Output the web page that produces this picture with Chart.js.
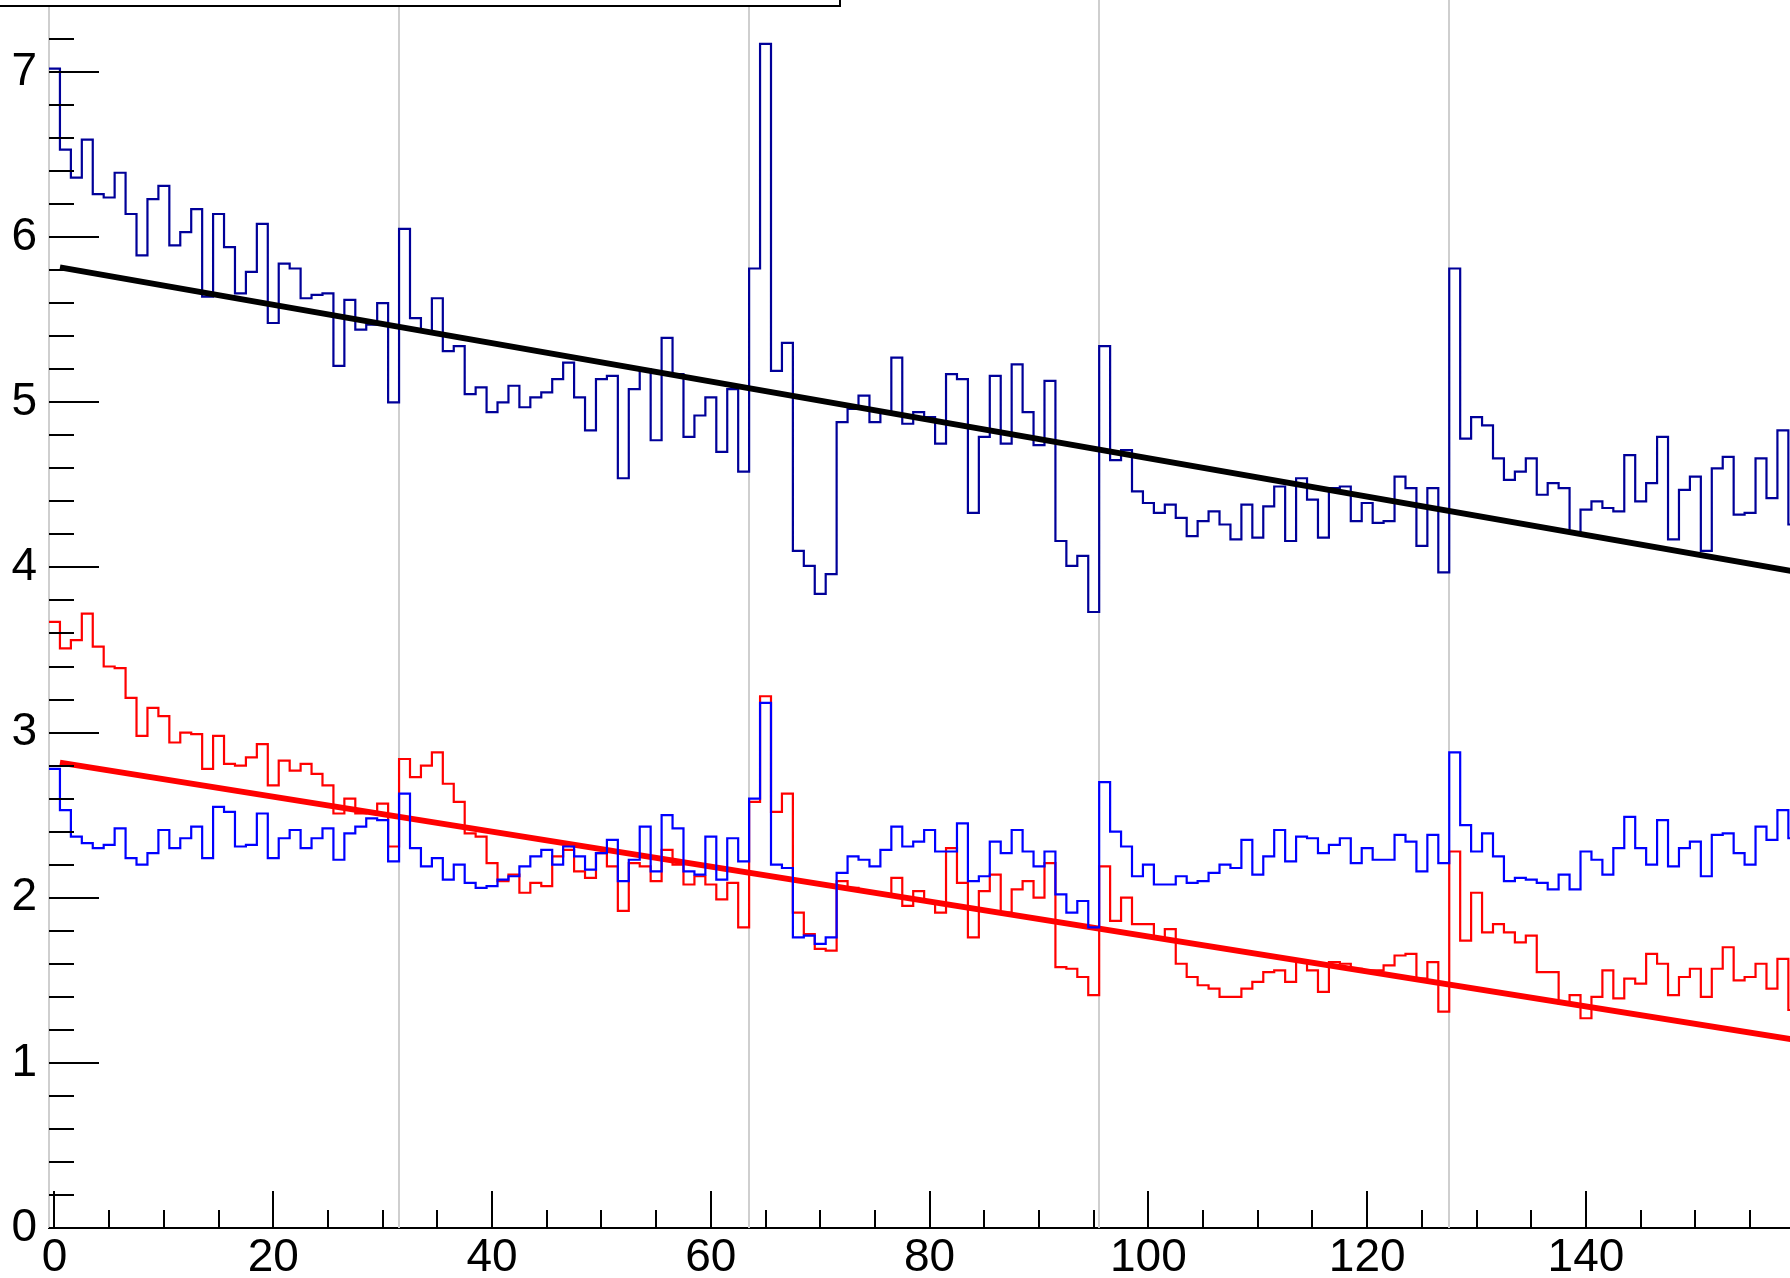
<!DOCTYPE html>
<html>
<head>
<meta charset="utf-8">
<title>Histograms with linear fits</title>
<script src="https://cdn.jsdelivr.net/npm/chart.js@4.4.1/dist/chart.umd.min.js"></script>
<style>
  html, body { margin: 0; padding: 0; background: #fff; overflow: hidden; }
  #wrap { width: 1790px; height: 1278px; }
</style>
</head>
<body>
<div id="wrap"><canvas id="hist" width="1790" height="1278"></canvas></div>
<script>
// === Data: one value per bin, bins centred on 0..159 ===
const upperHist = [
  7.02, 6.53, 6.36, 6.59, 6.26, 6.24, 6.39, 6.14, 5.89, 6.23,
  6.31, 5.95, 6.03, 6.17, 5.64, 6.14, 5.94, 5.66, 5.79, 6.08,
  5.48, 5.84, 5.81, 5.63, 5.65, 5.66, 5.22, 5.62, 5.44, 5.47,
  5.60, 5.00, 6.05, 5.51, 5.43, 5.63, 5.31, 5.34, 5.05, 5.09,
  4.94, 5.00, 5.10, 4.97, 5.03, 5.06, 5.14, 5.24, 5.03, 4.83,
  5.14, 5.16, 4.54, 5.08, 5.20, 4.77, 5.39, 5.17, 4.79, 4.92,
  5.03, 4.70, 5.08, 4.58, 5.81, 7.17, 5.19, 5.36, 4.10, 4.01,
  3.84, 3.96, 4.88, 4.96, 5.04, 4.88, 4.94, 5.27, 4.87, 4.94,
  4.91, 4.75, 5.17, 5.14, 4.33, 4.79, 5.16, 4.75, 5.23, 4.94,
  4.74, 5.13, 4.16, 4.01, 4.07, 3.73, 5.34, 4.65, 4.71, 4.46,
  4.39, 4.33, 4.38, 4.30, 4.19, 4.28, 4.34, 4.26, 4.17, 4.38,
  4.18, 4.37, 4.49, 4.16, 4.54, 4.41, 4.18, 4.48, 4.49, 4.28,
  4.39, 4.27, 4.28, 4.55, 4.48, 4.13, 4.48, 3.97, 5.81, 4.78,
  4.91, 4.86, 4.66, 4.53, 4.58, 4.66, 4.44, 4.51, 4.48, 4.21,
  4.35, 4.40, 4.36, 4.34, 4.68, 4.40, 4.51, 4.79, 4.17, 4.47,
  4.55, 4.10, 4.60, 4.67, 4.32, 4.33, 4.66, 4.42, 4.83, 4.26
];
const redHist = [
  3.67, 3.51, 3.56, 3.72, 3.52, 3.40, 3.39, 3.21, 2.98, 3.15,
  3.10, 2.94, 3.00, 2.99, 2.78, 2.98, 2.81, 2.80, 2.85, 2.93,
  2.68, 2.83, 2.77, 2.81, 2.75, 2.68, 2.51, 2.60, 2.51, 2.52,
  2.57, 2.31, 2.84, 2.73, 2.80, 2.88, 2.69, 2.58, 2.39, 2.37,
  2.21, 2.10, 2.14, 2.03, 2.09, 2.07, 2.25, 2.29, 2.16, 2.12,
  2.27, 2.19, 1.92, 2.21, 2.19, 2.10, 2.29, 2.20, 2.08, 2.13,
  2.08, 1.99, 2.09, 1.82, 2.58, 3.22, 2.52, 2.63, 1.91, 1.78,
  1.69, 1.68, 2.10, 2.06, 2.04, 2.03, 2.02, 2.12, 1.95, 2.04,
  1.98, 1.91, 2.30, 2.09, 1.76, 2.04, 2.14, 1.91, 2.05, 2.10,
  2.00, 2.21, 1.58, 1.57, 1.52, 1.41, 2.19, 1.86, 2.00, 1.84,
  1.84, 1.76, 1.81, 1.60, 1.52, 1.47, 1.45, 1.40, 1.40, 1.45,
  1.49, 1.55, 1.56, 1.49, 1.62, 1.56, 1.43, 1.61, 1.60, 1.57,
  1.56, 1.56, 1.59, 1.65, 1.66, 1.51, 1.61, 1.31, 2.28, 1.74,
  2.03, 1.79, 1.84, 1.79, 1.73, 1.77, 1.55, 1.55, 1.36, 1.41,
  1.27, 1.40, 1.56, 1.39, 1.51, 1.48, 1.66, 1.60, 1.41, 1.52,
  1.57, 1.40, 1.57, 1.70, 1.50, 1.52, 1.60, 1.45, 1.63, 1.32
];
const lowerHist = [
  2.78, 2.53, 2.37, 2.33, 2.30, 2.32, 2.42, 2.24, 2.20, 2.27,
  2.41, 2.30, 2.36, 2.43, 2.24, 2.55, 2.52, 2.31, 2.32, 2.51,
  2.24, 2.36, 2.41, 2.30, 2.36, 2.42, 2.23, 2.39, 2.43, 2.48,
  2.47, 2.22, 2.63, 2.30, 2.19, 2.24, 2.11, 2.20, 2.09, 2.06,
  2.07, 2.11, 2.13, 2.19, 2.25, 2.29, 2.20, 2.31, 2.25, 2.17,
  2.27, 2.35, 2.10, 2.23, 2.43, 2.16, 2.50, 2.42, 2.16, 2.14,
  2.37, 2.11, 2.36, 2.22, 2.60, 3.18, 2.20, 2.18, 1.76, 1.77,
  1.72, 1.76, 2.15, 2.25, 2.23, 2.19, 2.29, 2.43, 2.31, 2.34,
  2.41, 2.28, 2.28, 2.45, 2.10, 2.13, 2.34, 2.27, 2.41, 2.28,
  2.19, 2.28, 2.02, 1.91, 1.98, 1.82, 2.70, 2.40, 2.31, 2.13,
  2.20, 2.08, 2.08, 2.13, 2.09, 2.10, 2.15, 2.20, 2.18, 2.35,
  2.14, 2.25, 2.41, 2.22, 2.37, 2.36, 2.27, 2.32, 2.36, 2.21,
  2.30, 2.23, 2.23, 2.38, 2.34, 2.16, 2.38, 2.21, 2.88, 2.44,
  2.28, 2.39, 2.25, 2.10, 2.12, 2.11, 2.09, 2.05, 2.14, 2.05,
  2.28, 2.23, 2.14, 2.30, 2.49, 2.30, 2.20, 2.47, 2.19, 2.30,
  2.34, 2.13, 2.38, 2.39, 2.27, 2.20, 2.43, 2.35, 2.53, 2.36
];

// linear fits: x range and y at both ends
const fitX = [0.5, 159.5];
const blackFitY = [5.817, 3.970];
const redFitY = [2.818, 1.135];

// light grey separators (bin edges, x units)
const sectionEdges = [-0.5, 31.5, 63.5, 95.5, 127.5];

const yTickLabels = [0, 1, 2, 3, 4, 5, 6, 7];
const xTickLabels = [0, 20, 40, 60, 80, 100, 120, 140];

const FONT = '"Liberation Sans", Arial, Helvetica, sans-serif';

// bin k covers [k-0.5, k+0.5]; one point per left edge plus the last right edge
function toSteps(values) {
  const pts = values.map((v, i) => ({ x: i - 0.5, y: v }));
  pts.push({ x: values.length - 0.5, y: values[values.length - 1] });
  return pts;
}
function toLine(xs, ys) {
  return xs.map((x, i) => ({ x: x, y: ys[i] }));
}

// === ROOT-like decorations: separators, inward ticks, stats box edge ===
const rootFrame = {
  id: "rootFrame",
  beforeDatasetsDraw(chart) {
    const { ctx, chartArea, scales } = chart;
    ctx.save();
    ctx.strokeStyle = "#cfcfcf";
    ctx.lineWidth = 2;
    sectionEdges.forEach((e) => {
      const px = Math.round(scales.x.getPixelForValue(e));
      ctx.beginPath();
      ctx.moveTo(px, chartArea.top);
      ctx.lineTo(px, chartArea.bottom);
      ctx.stroke();
    });
    ctx.restore();
  },
  afterDraw(chart) {
    const { ctx, chartArea, scales } = chart;
    const x0 = scales.x.getPixelForValue(-0.5);
    ctx.save();
    ctx.strokeStyle = "#000";
    ctx.lineWidth = 2;

    // y ticks, pointing into the frame
    for (let i = 0; i <= 37; i++) {
      const v = i / 5;
      const py = Math.round(scales.y.getPixelForValue(v));
      if (py < chartArea.top - 2) continue;
      const len = i % 5 === 0 ? 50 : 25;
      ctx.beginPath();
      ctx.moveTo(x0, py);
      ctx.lineTo(x0 + len, py);
      ctx.stroke();
    }

    // x ticks, pointing up
    for (let v = 0; v <= 160; v += 5) {
      const px = Math.round(scales.x.getPixelForValue(v));
      if (px > chartArea.right + 2) continue;
      const len = v % 20 === 0 ? 37 : 18;
      ctx.beginPath();
      ctx.moveTo(px, chartArea.bottom);
      ctx.lineTo(px, chartArea.bottom - len);
      ctx.stroke();
    }

    // bottom edge of the box sitting above the plot
    ctx.fillStyle = "#fff";
    ctx.fillRect(-5, -20, 845, 26);
    ctx.strokeRect(-5, -20, 845, 26);
    ctx.restore();
  },
};

new Chart(document.getElementById("hist"), {
  type: "line",
  data: {
    datasets: [
      {
        label: "lower (blue)",
        data: toSteps(lowerHist),
        borderColor: "#0000ff",
        borderWidth: 2.2,
        stepped: "before",
      },
      {
        label: "red fit",
        data: toLine(fitX, redFitY),
        borderColor: "#ff0000",
        borderWidth: 6,
      },
      {
        label: "lower (red)",
        data: toSteps(redHist),
        borderColor: "#ff0000",
        borderWidth: 2.2,
        stepped: "before",
      },
      {
        label: "black fit",
        data: toLine(fitX, blackFitY),
        borderColor: "#000000",
        borderWidth: 6,
      },
      {
        label: "upper",
        data: toSteps(upperHist),
        borderColor: "#000099",
        borderWidth: 2.2,
        stepped: "before",
      },
    ],
  },
  options: {
    responsive: false,
    animation: false,
    devicePixelRatio: 1,
    events: [],
    layout: { padding: 0 },
    elements: {
      point: { radius: 0 },
      line: { tension: 0, borderCapStyle: "butt", borderJoinStyle: "miter" },
    },
    plugins: {
      legend: { display: false },
      tooltip: { enabled: false },
      title: { display: false },
    },
    scales: {
      x: {
        type: "linear",
        min: -0.5,
        max: 158.65,
        afterFit: (s) => {
          s.height = 50;
          s.paddingLeft = 0;
          s.paddingRight = 0;
        },
        grid: { display: false, drawTicks: false },
        border: { display: true, color: "#000", width: 2 },
        ticks: {
          stepSize: 20,
          includeBounds: false,
          autoSkip: false,
          maxRotation: 0,
          padding: 3,
          color: "#000",
          font: { family: FONT, size: 46 },
          callback: (v) => (xTickLabels.includes(v) ? String(v) : ""),
        },
      },
      y: {
        type: "linear",
        min: 0,
        max: 7.436,
        afterFit: (s) => {
          s.width = 49;
          s.paddingTop = 0;
          s.paddingBottom = 0;
        },
        grid: { display: false, drawTicks: false },
        border: { display: false },
        ticks: {
          stepSize: 1,
          includeBounds: false,
          padding: 12,
          color: "#000",
          font: { family: FONT, size: 46 },
          callback: (v) => (yTickLabels.includes(v) ? String(v) : ""),
        },
      },
    },
  },
  plugins: [rootFrame],
});
</script>
</body>
</html>
